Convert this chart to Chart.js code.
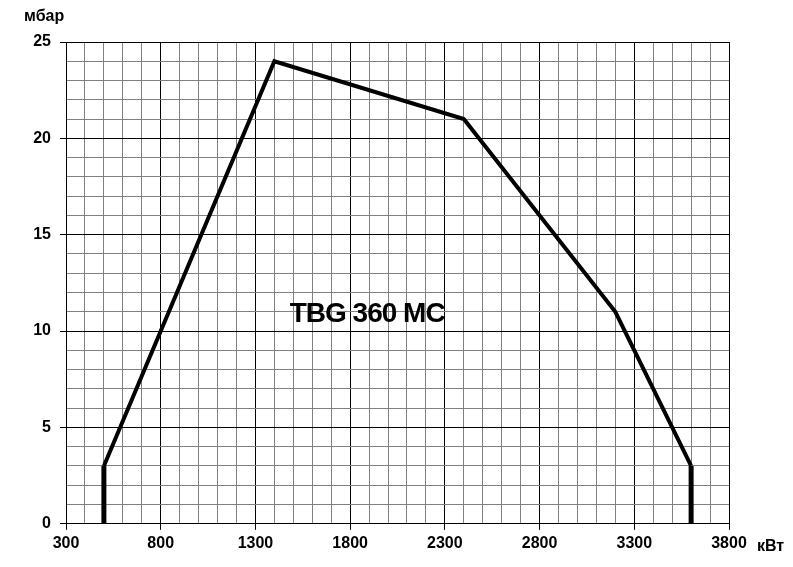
<!DOCTYPE html>
<html>
<head>
<meta charset="utf-8">
<script src="https://cdn.jsdelivr.net/npm/chart.js@4/dist/chart.umd.min.js"></script>
<style>
  html, body { margin: 0; padding: 0; background: #fff; }
  #wrap { width: 793px; height: 567px; position: relative; }
</style>
</head>
<body>
<div id="wrap"><canvas id="chart"></canvas></div>
<script>
// working range of the burner, kW vs mbar
var powerKw = [500, 500, 1400, 2400, 3200, 3600, 3600];
var pressureMbar = [0, 3, 24, 21, 11, 3, 0];

var xTicks = [300, 800, 1300, 1800, 2300, 2800, 3300, 3800];
var yTicks = [0, 5, 10, 15, 20, 25];

var modelName = 'TBG 360 MC';
var xUnit = 'кВт';
var yUnit = 'мбар';

var fontFam = '"Liberation Sans", Arial, sans-serif';

function isMajorX(v) { return xTicks.indexOf(v) >= 0; }
function isMajorY(v) { return yTicks.indexOf(v) >= 0; }

// labels: unit names and model name
var labelsPlugin = {
    id: 'labels',
    afterDraw: function (chart) {
        var ctx = chart.ctx;
        var area = chart.chartArea;
        var sx = chart.scales.x, sy = chart.scales.y;
        ctx.save();
        ctx.fillStyle = '#000';
        ctx.textBaseline = 'middle';

        ctx.font = 'bold 16px ' + fontFam;
        ctx.textAlign = 'left';
        ctx.fillText(yUnit, 24, 17);
        ctx.fillText(xUnit, area.right + 28, area.bottom + 23);

        ctx.font = 'bold 28px ' + fontFam;
        ctx.letterSpacing = '-1px';
        ctx.textAlign = 'center';
        ctx.fillText(modelName, sx.getPixelForValue(1890), sy.getPixelForValue(10.85));
        ctx.restore();
    }
};

var data = powerKw.map(function (x, i) { return { x: x, y: pressureMbar[i] }; });

new Chart(document.getElementById('chart'), {
    type: 'scatter',
    data: {
        datasets: [{
            data: data,
            showLine: true,
            borderColor: '#000',
            borderWidth: 4,
            pointRadius: 0,
            fill: false,
            tension: 0,
            borderJoinStyle: 'miter',
            segment: {
                borderWidth: function (c) {
                    return c.p0.parsed.x === c.p1.parsed.x ? 5 : 4;
                }
            }
        }]
    },
    options: {
        responsive: true,
        maintainAspectRatio: false,
        animation: false,
        layout: { padding: { left: 0, right: 64, top: 42, bottom: 10 } },
        plugins: {
            legend: { display: false },
            tooltip: { enabled: false }
        },
        scales: {
            x: {
                type: 'linear',
                min: 300,
                max: 3800,
                afterBuildTicks: function (axis) {
                    var t = [];
                    for (var v = 300; v <= 3800; v += 100) t.push({ value: v });
                    axis.ticks = t;
                },
                ticks: {
                    autoSkip: false,
                    maxRotation: 0,
                    color: '#000',
                    padding: 4,
                    font: { family: fontFam, size: 16, weight: 'bold' },
                    callback: function (v) { return isMajorX(v) ? String(v) : ''; }
                },
                grid: {
                    color: function (c) { return isMajorX(c.tick.value) ? '#000' : '#808080'; },
                    tickColor: function (c) { return isMajorX(c.tick.value) ? '#000' : 'rgba(0,0,0,0)'; },
                    tickLength: 6,
                    lineWidth: 1
                },
                border: { color: '#000', width: 1 }
            },
            y: {
                type: 'linear',
                min: 0,
                max: 25,
                afterBuildTicks: function (axis) {
                    var t = [];
                    for (var v = 0; v <= 25; v += 1) t.push({ value: v });
                    axis.ticks = t;
                },
                afterFit: function (axis) { axis.width = 66; },
                ticks: {
                    autoSkip: false,
                    color: '#000',
                    padding: 9,
                    font: { family: fontFam, size: 16, weight: 'bold' },
                    callback: function (v) { return isMajorY(v) ? String(v) : ''; }
                },
                grid: {
                    color: function (c) { return isMajorY(c.tick.value) ? '#000' : '#808080'; },
                    tickColor: function (c) { return isMajorY(c.tick.value) ? '#000' : 'rgba(0,0,0,0)'; },
                    tickLength: 6,
                    lineWidth: 1
                },
                border: { color: '#000', width: 1 }
            }
        }
    },
    plugins: [labelsPlugin]
});
</script>
</body>
</html>
